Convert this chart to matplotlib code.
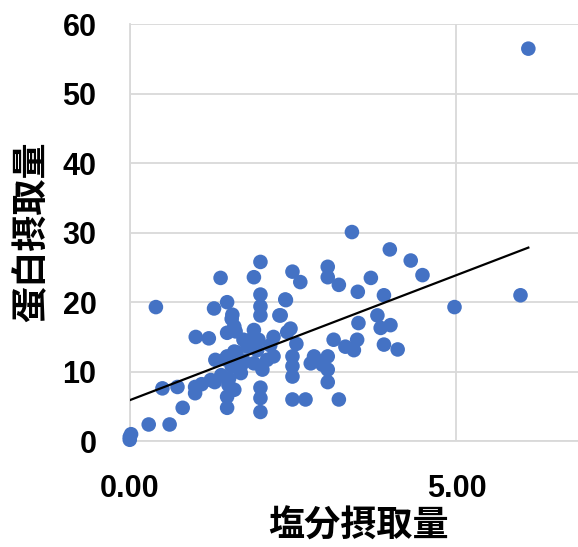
import matplotlib.pyplot as plt
import numpy as np

plt.rcParams['font.family'] = ['Liberation Sans', 'DejaVu Sans']

# 塩分摂取量 / 蛋白摂取量
salt = [
    6.10, 3.40, 3.98, 4.30, 4.48, 5.98, 4.97, 0.40,
    1.39, 2.00, 1.90, 2.49, 2.61, 3.03, 3.03, 3.20,
    3.49, 3.69, 3.89, 2.39, 2.31, 2.00, 2.00, 2.00,
    1.29, 1.49, 1.57, 1.60, 1.49, 1.01, 1.21, 1.90,
    1.85, 2.20, 2.41, 2.46, 1.95, 1.60, 1.31, 1.49,
    1.70, 1.90, 2.10, 2.20, 2.03, 2.49, 2.49, 2.49,
    2.82, 2.77, 3.03, 3.03, 3.03, 3.12, 3.30, 3.43,
    3.48, 3.50, 3.79, 3.84, 3.99, 3.89, 4.10, 0.50,
    0.73, 1.00, 1.00, 1.24, 1.30, 1.51, 1.60, 1.49,
    1.49, 0.81, 0.29, 0.61, 0.00, 0.00, 0.02, 2.00,
    2.00, 2.00, 2.49, 2.69, 3.20, 1.56, 1.74, 1.97,
    1.63, 1.56, 1.46, 1.74, 1.62, 2.29, 2.38, 1.80,
    2.15, 1.40, 1.70, 2.55, 2.95, 1.10, 1.52,
]
protein = [
    56.5, 30.1, 27.6, 26.0, 23.9, 21.0, 19.3, 19.3,
    23.5, 25.8, 23.6, 24.4, 22.9, 25.1, 23.6, 22.5,
    21.5, 23.5, 21.0, 20.3, 18.1, 21.1, 19.4, 18.1,
    19.1, 20.0, 18.2, 16.5, 15.6, 15.0, 14.8, 16.0,
    14.6, 15.0, 15.7, 16.2, 13.1, 12.9, 11.7, 12.2,
    10.8, 11.2, 11.7, 12.2, 10.3, 12.2, 10.8, 9.3,
    12.2, 11.2, 12.2, 10.3, 8.5, 14.6, 13.6, 13.1,
    14.6, 17.0, 18.1, 16.3, 16.7, 13.9, 13.2, 7.6,
    7.8, 7.8, 6.9, 8.8, 8.5, 8.1, 7.4, 6.4,
    4.8, 4.8, 2.4, 2.4, 0.6, 0.2, 1.0, 7.7,
    6.2, 4.2, 6.0, 6.0, 6.0, 17.6, 14.6, 14.6,
    12.8, 10.8, 11.8, 11.6, 15.8, 18.1, 20.4, 13.6,
    13.8, 9.5, 9.8, 14.0, 11.0, 8.2, 9.0,
]

# linear trend line
trend_intercept = 5.9
trend_slope = 3.6
trend_x = [0.0, 6.1]

xticks = [0.0, 5.0]
xticklabels = ['0.00', '5.00']
yticks = [0, 10, 20, 30, 40, 50, 60]

fig = plt.figure(figsize=(5.78, 5.47), dpi=100)
ax = fig.add_axes([0.2245, 0.1935, 0.7755, 0.762])

ax.scatter(salt, protein, s=110, color='#4472C4', edgecolors='none',
           zorder=3, clip_on=False)
ax.plot(trend_x, [trend_intercept + trend_slope * v for v in trend_x],
        color='black', lw=1.6, zorder=4)

ax.set_xlim(0, 6.86)
ax.set_ylim(0, 60)
ax.set_xticks(xticks)
ax.set_xticklabels(xticklabels)
ax.set_yticks(yticks)

ax.grid(True, color='#d9d9d9', lw=1.3, zorder=0)
ax.set_axisbelow(True)
for side in ['top', 'right']:
    ax.spines[side].set_visible(False)
for side in ['left', 'bottom']:
    ax.spines[side].set_color('#d9d9d9')
    ax.spines[side].set_linewidth(1.3)

ax.tick_params(axis='both', length=0, labelsize=22)
ax.tick_params(axis='y', pad=24)
ax.tick_params(axis='x', pad=24)
for lab in ax.get_xticklabels() + ax.get_yticklabels():
    lab.set_fontweight('bold')

cjk = ['Noto Sans CJK JP', 'DejaVu Sans']
fig.text(0.055, 0.576, '蛋白摂取量', rotation=90, ha='center', va='center',
         fontsize=26, fontweight='bold', family=cjk)
fig.text(0.62, 0.038, '塩分摂取量', ha='center', va='center',
         fontsize=26, fontweight='bold', family=cjk)

fig.savefig('out.png', dpi=100)
